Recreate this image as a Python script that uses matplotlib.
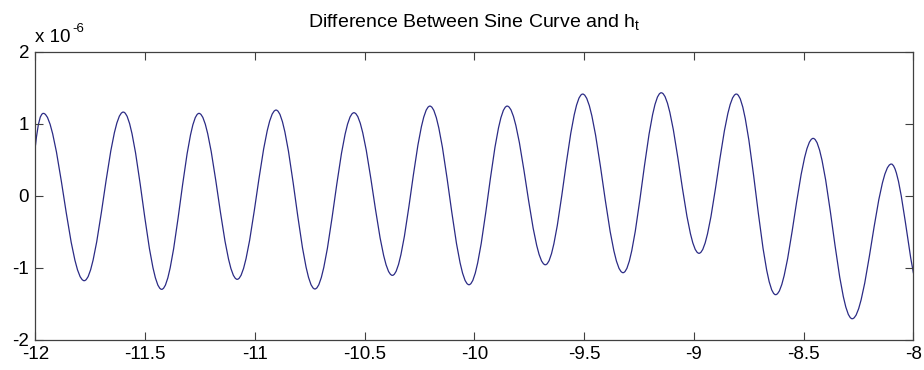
import matplotlib
matplotlib.use("Agg")
import matplotlib.pyplot as plt
from matplotlib.path import Path
from matplotlib.patches import PathPatch

plt.rcParams['font.family'] = ['Liberation Sans', 'DejaVu Sans']
plt.rcParams['mathtext.fontset'] = 'custom'
plt.rcParams['mathtext.rm'] = 'Liberation Sans'

# Curve: start point, alternating extrema (peak first), end point
start_x, start_y = -12.0, 0.70
ext_x = [-11.964, -11.778, -11.600, -11.425, -11.255, -11.081, -10.904, -10.727,
         -10.549, -10.374, -10.203, -10.025, -9.851, -9.677, -9.507, -9.323,
         -9.149, -8.977, -8.807, -8.628, -8.457, -8.279, -8.101]
ext_y = [1.144, -1.177, 1.162, -1.297, 1.144, -1.158, 1.19, -1.292,
         1.153, -1.103, 1.245, -1.233, 1.245, -0.956, 1.412, -1.066,
         1.43, -0.797, 1.412, -1.371, 0.797, -1.705, 0.441]
end_x, end_y = -8.0, -1.075
scale = 1e-6

xticks = [-12, -11.5, -11, -10.5, -10, -9.5, -9, -8.5, -8]
xticklabels = ['-12', '-11.5', '-11', '-10.5', '-10', '-9.5', '-9', '-8.5', '-8']
yticks = [-2, -1, 0, 1, 2]
yticklabels = ['-2', '-1', '0', '1', '2']

fig = plt.figure(figsize=(9.24, 3.70), dpi=100)
ax = fig.add_axes([0.0384, 0.0811, 0.9502, 0.7792])

a = 0.3634  # bezier handle fraction for half-cosine shape
verts = [(start_x, start_y * scale)]
codes = [Path.MOVETO]
# first partial segment
dx = ext_x[0] - start_x
verts += [(start_x + dx / 3, (start_y + (ext_y[0] - start_y) * 0.75) * scale),
          (ext_x[0] - a * dx, ext_y[0] * scale),
          (ext_x[0], ext_y[0] * scale)]
codes += [Path.CURVE4] * 3
for i in range(len(ext_x) - 1):
    x0, y0, x1, y1 = ext_x[i], ext_y[i], ext_x[i + 1], ext_y[i + 1]
    dx = x1 - x0
    verts += [(x0 + a * dx, y0 * scale), (x1 - a * dx, y1 * scale), (x1, y1 * scale)]
    codes += [Path.CURVE4] * 3
# last partial segment
x0, y0 = ext_x[-1], ext_y[-1]
dx = end_x - x0
verts += [(x0 + a * dx, y0 * scale),
          (end_x - dx / 3, (end_y + (y0 - end_y) * 0.35) * scale),
          (end_x, end_y * scale)]
codes += [Path.CURVE4] * 3

patch = PathPatch(Path(verts, codes), facecolor='none', edgecolor='#2b2b85', lw=0.9)
ax.add_patch(patch)

ax.set_xlim(-12, -8)
ax.set_ylim(-2 * scale, 2 * scale)
ax.set_xticks(xticks)
ax.set_xticklabels(xticklabels)
ax.set_yticks([v * scale for v in yticks])
ax.set_yticklabels(yticklabels)
ax.tick_params(direction='in', length=6, width=0.8, color='#404040', labelsize=13.5,
               top=True, right=True, labelcolor='black')
ax.tick_params(axis='x', pad=4.5)
ax.tick_params(axis='y', pad=4.5)
for s in ax.spines.values():
    s.set_color('#404040')
    s.set_linewidth(0.9)

fig.text(0.5135, 0.926, r'Difference Between Sine Curve and h$_{\mathrm{t}}$',
         fontsize=14, ha='center', va='baseline')
fig.text(0.038, 0.887, 'x 10', fontsize=13.5, ha='left', va='baseline')
fig.text(0.0785, 0.913, '-6', fontsize=9.5, ha='left', va='baseline')

fig.savefig('out.png', dpi=100)
